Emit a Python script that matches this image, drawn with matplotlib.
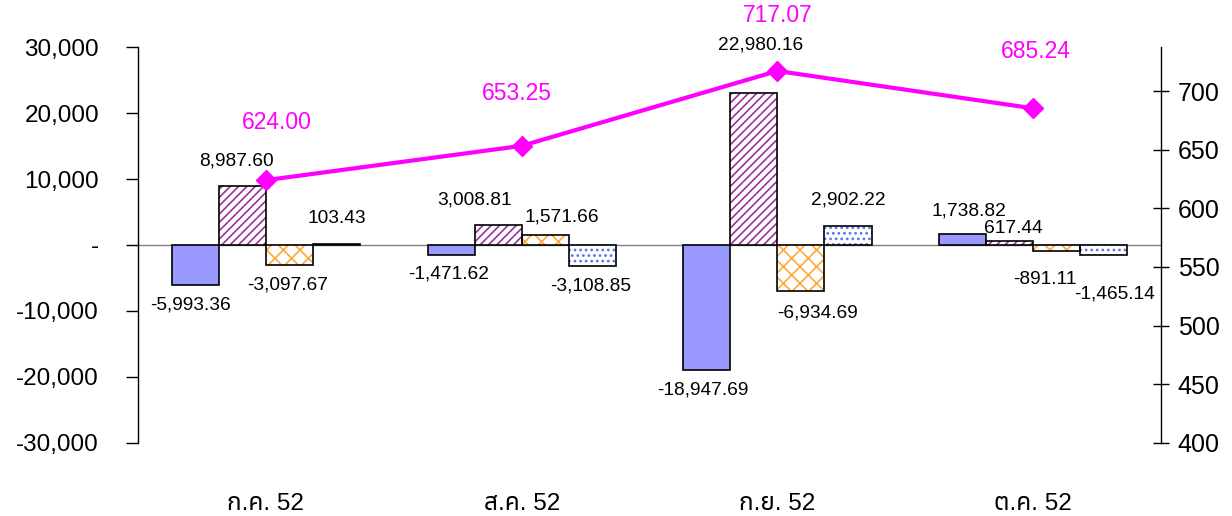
import matplotlib
matplotlib.use("Agg")
from matplotlib import pyplot as plt
from matplotlib.ticker import FuncFormatter
import numpy as np

plt.rcParams["font.family"] = ["Liberation Sans", "Noto Sans Thai"]
plt.rcParams["hatch.linewidth"] = 1.2

months = ["ก.ค. 52", "ส.ค. 52", "ก.ย. 52", "ต.ค. 52"]
series_a = [-5993.36, -1471.62, -18947.69, 1738.82]
series_b = [8987.60, 3008.81, 22980.16, 617.44]
series_c = [-3097.67, 1571.66, -6934.69, -891.11]
series_d = [103.43, -3108.85, 2902.22, -1465.14]
index_line = [624.00, 653.25, 717.07, 685.24]

# bar styles: (face, hatch, hatch colour)
styles = [
    ("#9999FF", None, None),
    ("white", "////", "#993399"),
    ("white", "xx", "#FFAA33"),
    ("white", "...", "#5577EE"),
]
# hand-placed label nudges in pixels (dx, dy from bar end)
nudges = [
    [(-5, -20), (-2, -19), (-4, -20), (6, 23)],
    [(-6, 25), (-24, 25), (7, 48), (4, 12)],
    [(-2, -20), (17, 18), (17, -22), (-12, -29)],
    [(0, 26), (-2, -20), (0, 26), (11, -39)],
]
line_nudges = [(11, 58), (-5, 52), (0, 55), (3, 57)]

fig = plt.figure(figsize=(12.32, 5.16), dpi=100)
ax = fig.add_axes([0.112, 0.1415, 0.8304, 0.7674])
ax2 = ax.twinx()
ax.set_zorder(1)
ax2.set_zorder(2)
ax.patch.set_visible(False)

x = np.arange(len(months))
width = 0.184
all_series = [series_a, series_b, series_c, series_d]
ax.axhline(0, color="#808080", lw=1.0, zorder=1)

for i, vals in enumerate(all_series):
    face, hatch, hcol = styles[i]
    pos = x + (i - 1.5) * width
    if hatch:
        ax.bar(pos, vals, width, color=face, hatch=hatch, edgecolor=hcol, lw=0, zorder=2)
        ax.bar(pos, vals, width, fill=False, edgecolor="black", lw=1.2, zorder=3)
    else:
        ax.bar(pos, vals, width, color=face, edgecolor="black", lw=1.2, zorder=3)
    for j, v in enumerate(vals):
        dx, dy = nudges[i][j]
        ax.annotate(f"{v:,.2f}", (pos[j], v), xytext=(dx, dy), textcoords="offset pixels",
                    ha="center", va="center", fontsize=13.8, zorder=5)

ax.set_xlim(-0.5, 3.5)
ax.set_ylim(-30000, 30000)
ax.set_yticks(np.arange(-30000, 30001, 10000))
ax.yaxis.set_major_formatter(FuncFormatter(lambda v, p: "-" if v == 0 else f"{v:,.0f}"))
ax.set_xticks(x)
ax.set_xticklabels(months)
ax.tick_params(axis="x", length=0, pad=36, labelsize=17.5)
ax.tick_params(axis="y", direction="out", length=9, width=1, pad=19, labelsize=17.5)
for s in ["top", "bottom", "right"]:
    ax.spines[s].set_visible(False)
ax.spines["left"].set_linewidth(1)

ax2.plot(x, index_line, color="#FF00FF", lw=3, marker="D", markersize=10, zorder=4)
for j, v in enumerate(index_line):
    dx, dy = line_nudges[j]
    ax2.annotate(f"{v:.2f}", (x[j], v), xytext=(dx, dy), textcoords="offset pixels",
                 ha="center", va="center", fontsize=16.5, color="#FF00FF")
ax2.set_ylim(400, 737.5)
ax2.set_yticks(np.arange(400, 701, 50))
ax2.tick_params(axis="y", direction="inout", length=12, width=1, pad=6, labelsize=18)
for s in ["top", "bottom", "left"]:
    ax2.spines[s].set_visible(False)
ax2.spines["right"].set_linewidth(1)

fig.savefig("out.png", dpi=100)
